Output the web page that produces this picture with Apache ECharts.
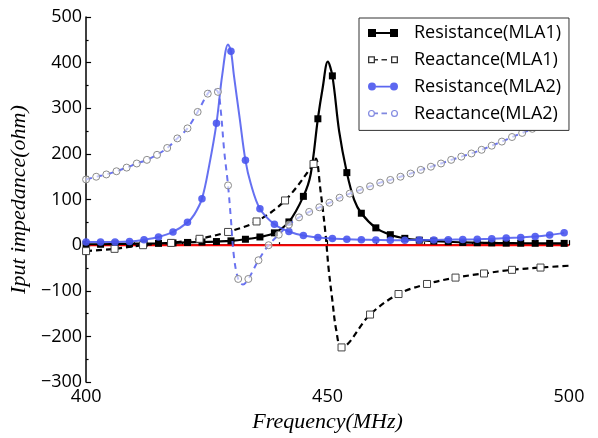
<!DOCTYPE html>
<html>
<head>
<meta charset="utf-8">
<script src="https://cdn.jsdelivr.net/npm/echarts@6/dist/echarts.min.js"></script>
<style>
  html, body { margin: 0; padding: 0; background: #fff; }
  #chart { width: 598px; height: 438px; }
</style>
</head>
<body>
<div id="chart"></div>
<script>
// Input impedance of the two antennas versus frequency.
// Marker samples (MHz / ohm) and extra curve samples that shape the peaks.

const res1Freq = [400,403,406,409,412,415,418,421,424,427,430,433,436,439,442,445,448,451,454,457,460,463,466,469,472,475,478,481,484,487,490,493,496,499];
const res1Ohm  = [2,2,2.5,3,3.5,4,5,6,7,8,9.5,13,18,27,51,107,277,371,159,70,38,23,15,11,9,7.5,6,5.5,5,4.5,4.3,4.2,4,4];
const res1CurveFreq = [446.5,449,450.05,452.4,455.5];
const res1CurveOhm  = [155,345,402,250,100];

const react1Freq = [400,405.9,411.8,417.6,423.5,429.4,435.3,441.2,447.1,452.9,458.8,464.7,470.6,476.5,482.4,488.2,494.1];
const react1Ohm  = [-13,-8,0,5,14,29,52,98,178,-224,-152,-107,-85,-71,-62,-54,-49];
const react1CurveFreq = [447.6,448.5,449.6,450.2,451,451.8,500];
const react1CurveOhm  = [190,124,23,-49,-121,-186,-45];

const res2Freq = [400,403,406,409,412,415,418,421,424,427,430,433,436,439,442,445,448,451,454,457,460,463,466,469,472,475,478,481,484,487,490,493,496,499];
const res2Ohm  = [7,7,7,8,12,18,29,50,102,267,425,186,80,46,30,21,17,14.5,13,12,11.5,11,11,11.5,11.5,12,12.5,13,14,15.5,17,19,22.5,27];
const res2CurveFreq = [422.4,425.5,428.2,429.4,430.6,431.8,434.1];
const res2CurveOhm  = [67,175,373,440,373,279,135];

const react2Freq = [400,402.1,404.2,406.3,408.4,410.5,412.6,414.7,416.8,418.9,421,423.1,425.2,427.3,429.4,431.5,433.6,435.7,437.8,439.9,442,444.1,446.2,448.3,450.4,452.5,454.6,456.7,458.8,460.9,463,465.1,467.2,469.3,471.4,473.5,475.6,477.7,479.8,481.9,484,486.1,488.2,490.3,492.4,494.5,496.6,498.7];
const react2Ohm  = [144,150,155,162,170,179,187,198,213,234,256,292,332,336,131,-74,-74,-33,0,23,45,61,73,83,93,104,113,121,129,137,143,150,157,165,172,179,187,194,201,209,218,227,237,246,255,267,280,292];
const react2CurveFreq = [426.3,427.9,428.6,430,430.6,432.5,500];
const react2CurveOhm  = [342,294,207,56,-23,-86,304];

const seriesNames = ['Resistance(MLA1)','Reactance(MLA1)','Resistance(MLA2)','Reactance(MLA2)'];
const xTickLabels = [400, 450, 500];

// Merge marker samples with symbol-less curve samples, ordered by frequency.
function buildData(mf, mv, cf, cv) {
  const pts = mf.map((f, i) => ({ f, v: mv[i], mark: true }))
    .concat(cf.map((f, i) => ({ f, v: cv[i], mark: false })));
  pts.sort((a, b) => a.f - b.f);
  return pts.map(p => p.mark ? [p.f, p.v] : { value: [p.f, p.v], symbol: 'none' });
}

const BLUE = '#4a57ee';
const labelFont = '"Open Sans", "Noto Sans", sans-serif';
const mathFont = '"Liberation Serif", "DejaVu Serif", serif';

// Legend glyphs: line segment with end markers
const iconRes1 = 'path://M0,0h8v8h-8z M8,3.1h14v1.8h-14z M22,0h8v8h-8z';
const iconReact1 = 'path://M0,0.5h7v7h-7z M1.3,1.8v4.4h4.4v-4.4z M7,3.2h3v1.6h-3z M13.5,3.2h5.5v1.6h-5.5z M23,0.5h7v7h-7z M24.3,1.8v4.4h4.4v-4.4z M0,0h0.01v0.01h-0.01z M0,8h0.01v-0.01h-0.01z';
const iconRes2 = 'path://M0,4a4,4 0 1,1 8,0a4,4 0 1,1 -8,0z M8,3.1h14v1.8h-14z M22,4a4,4 0 1,1 8,0a4,4 0 1,1 -8,0z';
const iconReact2 = 'path://M0,4a3.5,3.5 0 1,1 7,0a3.5,3.5 0 1,1 -7,0z M1.2,4a2.3,2.3 0 1,0 4.6,0a2.3,2.3 0 1,0 -4.6,0z M7,3.2h3v1.6h-3z M13.5,3.2h5.5v1.6h-5.5z M23,4a3.5,3.5 0 1,1 7,0a3.5,3.5 0 1,1 -7,0z M24.2,4a2.3,2.3 0 1,0 4.6,0a2.3,2.3 0 1,0 -4.6,0z M0,0h0.01v0.01h-0.01z M0,8h0.01v-0.01h-0.01z';

const chart = echarts.init(document.getElementById('chart'), null, { renderer: 'canvas' });

chart.setOption({
  animation: false,
  backgroundColor: '#fff',
  grid: { left: 85, right: 29, top: 17, bottom: 51 },
  legend: {
    orient: 'vertical',
    left: 359,
    top: 18,
    backgroundColor: '#fff',
    borderColor: '#333',
    borderWidth: 1,
    borderRadius: 0,
    padding: [6, 8, 8, 9],
    itemWidth: 30,
    itemHeight: 8,
    itemGap: 8.8,
    z: 10,
    textStyle: { fontFamily: labelFont, fontSize: 18, color: '#000', padding: [0, 0, 0, 11] },
    data: [
      { name: seriesNames[0], icon: iconRes1, itemStyle: { color: '#000', borderWidth: 0 } },
      { name: seriesNames[1], icon: iconReact1, itemStyle: { color: '#333', borderWidth: 0 } },
      { name: seriesNames[2], icon: iconRes2, itemStyle: { color: BLUE, borderWidth: 0 } },
      { name: seriesNames[3], icon: iconReact2, itemStyle: { color: '#8088e0', borderWidth: 0 } }
    ]
  },
  xAxis: {
    type: 'value',
    min: 400, max: 500, interval: 50,
    name: 'Frequency(MHz)',
    nameLocation: 'middle',
    nameGap: 27,
    nameTextStyle: { fontFamily: mathFont, fontStyle: 'italic', fontSize: 22, color: '#000' },
    axisLine: { lineStyle: { color: '#000', width: 1.5 } },
    axisTick: { inside: true, length: 5, lineStyle: { color: '#000', width: 1.2 } },
    minorTick: { show: true, splitNumber: 5, length: 3, lineStyle: { color: '#000', width: 1.2 } },
    splitLine: { show: false },
    axisLabel: {
      margin: 6, fontFamily: labelFont, fontSize: 18, color: '#000',
      formatter: v => xTickLabels.indexOf(v) >= 0 ? String(v) : ''
    }
  },
  yAxis: {
    type: 'value',
    min: -300, max: 500, interval: 100,
    name: 'Iput impedance(ohm)',
    nameLocation: 'middle',
    nameGap: 41,
    nameTextStyle: { fontFamily: mathFont, fontStyle: 'italic', fontSize: 22, color: '#000' },
    axisLine: { show: true, lineStyle: { color: '#000', width: 1.5 } },
    axisTick: { show: true, inside: true, length: 5, lineStyle: { color: '#000', width: 1.2 } },
    minorTick: { show: true, splitNumber: 2, length: 2.5, lineStyle: { color: '#000', width: 1.2 } },
    splitLine: { show: false },
    axisLabel: {
      margin: 4, fontFamily: labelFont, fontSize: 18, color: '#000',
      formatter: v => (v < 0 ? '\u2212' + Math.abs(v) : String(v))
    }
  },
  series: [
    {
      name: 'zero',
      type: 'line',
      data: [[400, 0], [500, 0]],
      symbol: 'none',
      lineStyle: { color: '#ff0000', width: 2 },
      silent: true,
      z: 1
    },
    {
      name: seriesNames[0],
      type: 'line',
      data: buildData(res1Freq, res1Ohm, res1CurveFreq, res1CurveOhm),
      smooth: 0.35,
      symbol: 'rect', symbolSize: 7,
      itemStyle: { color: '#000' },
      lineStyle: { color: '#000', width: 2.2 },
      z: 2
    },
    {
      name: seriesNames[1],
      type: 'line',
      data: buildData(react1Freq, react1Ohm, react1CurveFreq, react1CurveOhm),
      smooth: 0.35,
      symbol: 'rect', symbolSize: 7,
      itemStyle: { color: '#fff', borderColor: '#444', borderWidth: 1 },
      lineStyle: { color: '#000', width: 2.2, type: [6, 4] },
      z: 3
    },
    {
      name: seriesNames[2],
      type: 'line',
      data: buildData(res2Freq, res2Ohm, res2CurveFreq, res2CurveOhm),
      smooth: 0.35,
      symbol: 'circle', symbolSize: 7.5,
      itemStyle: { color: BLUE, opacity: 0.9 },
      lineStyle: { color: BLUE, width: 2, opacity: 0.85 },
      z: 4
    },
    {
      name: seriesNames[3],
      type: 'line',
      data: buildData(react2Freq, react2Ohm, react2CurveFreq, react2CurveOhm),
      smooth: 0.35,
      symbol: 'circle', symbolSize: 7,
      itemStyle: { color: 'rgba(255,255,255,0.6)', borderColor: '#8c8c8c', borderWidth: 1 },
      lineStyle: { color: '#5a64ee', width: 2, type: [6, 5], opacity: 0.9 },
      z: 5
    }
  ]
});
</script>
</body>
</html>
